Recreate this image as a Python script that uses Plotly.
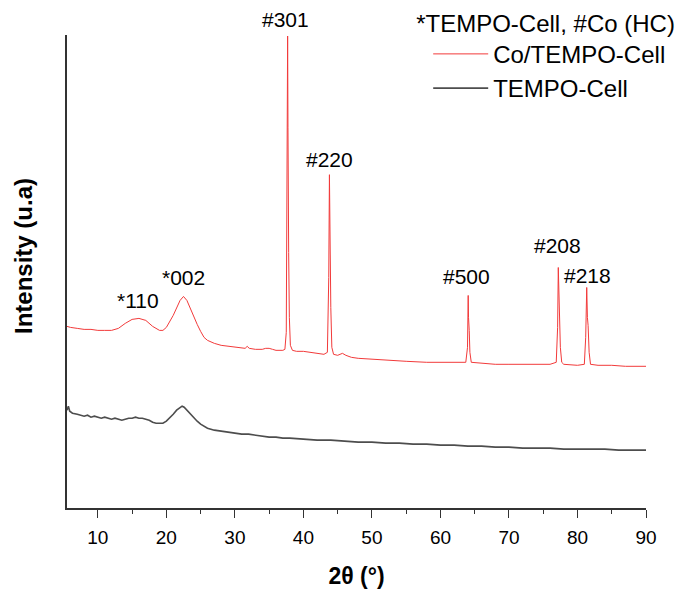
import plotly.graph_objects as go

# ---- data (intensity in arbitrary units) ----
co_x = [5.5, 6, 7, 8, 9, 10, 11, 12, 13, 14, 15, 16, 17, 18, 19, 19.5, 20, 21, 22, 22.5,
        23, 23.5, 24, 24.5, 25, 25.5, 26, 27, 28, 29, 30, 31, 31.5, 31.8, 32.1, 33, 34, 34.5,
        35, 35.5, 36, 37, 37.3, 37.5, 37.6, 37.7, 37.75, 37.8, 37.85, 37.95, 38.1, 38.4, 39,
        40, 41, 42, 43, 43.5, 43.7, 43.8, 43.85, 43.9, 44.0, 44.15, 44.4, 45, 45.7, 46.2, 47,
        48, 50, 52, 55, 58, 60, 62, 63.7, 63.95, 64.05, 64.1, 64.2, 64.3, 64.5, 66, 68, 70,
        72, 74, 76, 76.9, 77.1, 77.2, 77.3, 77.4, 77.5, 77.7, 78, 80, 81, 81.2, 81.35, 81.45,
        81.55, 81.7, 81.9, 83, 85, 87, 90]
co_y = [181, 180, 179, 178, 178, 177, 177, 177, 179, 184, 188, 189, 187, 181, 177, 177, 180, 192, 207, 211,
        207, 199, 190, 183, 176, 170, 167, 164, 162, 161, 160, 159, 159, 161, 159, 158, 158, 159,
        159, 158, 157, 157, 158, 175, 300, 472, 380, 259, 255, 190, 162, 157, 156,
        156, 155, 154, 153, 155, 230, 333, 270, 254, 200, 160, 153, 152, 154, 152, 150,
        149, 148, 147, 146, 145, 145, 145, 145, 160, 212, 190, 177, 155, 145, 144, 143, 143,
        143, 143, 143, 145, 180, 240, 200, 192, 160, 145, 143, 142, 143, 170, 220, 190,
        182, 155, 143, 142, 142, 141, 141]

tc_x = [5.5, 5.7, 5.9, 6.3, 7, 7.5, 8, 8.5, 9, 9.5, 10, 10.5, 11, 11.5, 12, 12.5, 13, 13.5, 14, 14.5,
        15, 15.5, 16, 16.5, 17, 17.5, 18, 18.5, 19, 19.5, 20, 20.5, 21, 21.5, 22, 22.3, 22.6, 23,
        23.5, 24, 24.5, 25, 25.5, 26, 27, 28, 29, 30, 31, 32, 33, 34, 35, 36, 37, 38, 40, 42, 44,
        46, 48, 50, 52, 54, 56, 58, 60, 62, 64, 66, 68, 70, 72, 74, 76, 78, 80, 82, 84, 86, 88, 90]
tc_y = [97, 101, 96, 94, 93, 92, 91, 92, 90, 91, 90, 89, 90, 89, 88, 89, 88, 87, 88, 89,
        89, 90, 89, 89, 88, 87, 85, 84, 84, 84, 86, 89, 93, 97, 100, 101, 100, 97,
        93, 89, 86, 83, 81, 79, 77, 76, 75, 74, 73, 73, 72, 71, 70, 70, 69, 69, 68, 67, 67,
        66, 65, 65, 64, 64, 63, 63, 62, 62, 61, 61, 60, 60, 59, 59, 59, 58, 58, 58, 58, 57, 57, 57]

peak_labels = ["*110", "*002", "#301", "#220", "#500", "#208", "#218"]
peak_x = [16.0, 22.5, 37.7, 43.8, 64.05, 77.2, 81.35]
peak_y = [189, 211, 472, 333, 212, 240, 220]

x_ticks = [10, 20, 30, 40, 50, 60, 70, 80, 90]

FONT = "Arial, 'Liberation Sans', sans-serif"

fig = go.Figure()
fig.add_trace(go.Scatter(x=co_x, y=co_y, mode="lines", name="Co/TEMPO-Cell",
                         line=dict(color="#f23a3a", width=1)))
fig.add_trace(go.Scatter(x=tc_x, y=tc_y, mode="lines", name="TEMPO-Cell",
                         line=dict(color="#4d4d4d", width=1.6)))

shifts = [4, 5, 3, 2, 5, 9, -2]
xshifts = [-1, 0, -2, 0, -2, -1, 1]
for lab, px, py, ys, xs in zip(peak_labels, peak_x, peak_y, shifts, xshifts):
    fig.add_annotation(x=px, y=py, text=lab, showarrow=False, yanchor="bottom",
                       yshift=ys, xshift=xs, font=dict(family=FONT, size=21, color="black"))

# y-axis title (placed as text beside the axis, slightly above centre as in the source)
fig.add_annotation(xref="paper", yref="paper", x=-43 / 579, y=(508 - 256) / 473,
                   text="<b>Intensity (u.a)</b>", textangle=-90, showarrow=False,
                   xanchor="center", yanchor="middle",
                   font=dict(family=FONT, size=24, color="black"))

fig.update_layout(
    width=679, height=589,
    margin=dict(l=67, r=33, t=35, b=81, autoexpand=False),
    paper_bgcolor="white", plot_bgcolor="white",
    font=dict(family=FONT, color="black"),
    showlegend=True,
    legend=dict(
        title=dict(text="*TEMPO-Cell, #Co (HC)", font=dict(size=24, family=FONT)),
        font=dict(size=24, family=FONT),
        xref="container", yref="container",
        x=0.61, y=0.999, xanchor="left", yanchor="top",
        bgcolor="rgba(0,0,0,0)", itemwidth=55, indentation=14,
        tracegroupgap=0,
    ),
    xaxis=dict(
        range=[5.5, 90], showgrid=False, zeroline=False,
        showline=True, linecolor="#333333", linewidth=1.5,
        ticks="outside", ticklen=8, tickwidth=1.3, tickcolor="#333333",
        tickvals=x_ticks, tickfont=dict(size=19, family=FONT), ticklabelstandoff=3,
        minor=dict(ticks="outside", ticklen=4, dtick=5, tick0=5, tickwidth=1.3, tickcolor="#333333"),
        title=dict(text="<b>2θ (°)</b>", font=dict(size=23, family=FONT), standoff=22),
    ),
    yaxis=dict(
        range=[-1, 473], showgrid=False, zeroline=False,
        showline=True, linecolor="#333333", linewidth=1.5,
        ticks="", showticklabels=False,
    ),
)

fig.write_html("out.html")
